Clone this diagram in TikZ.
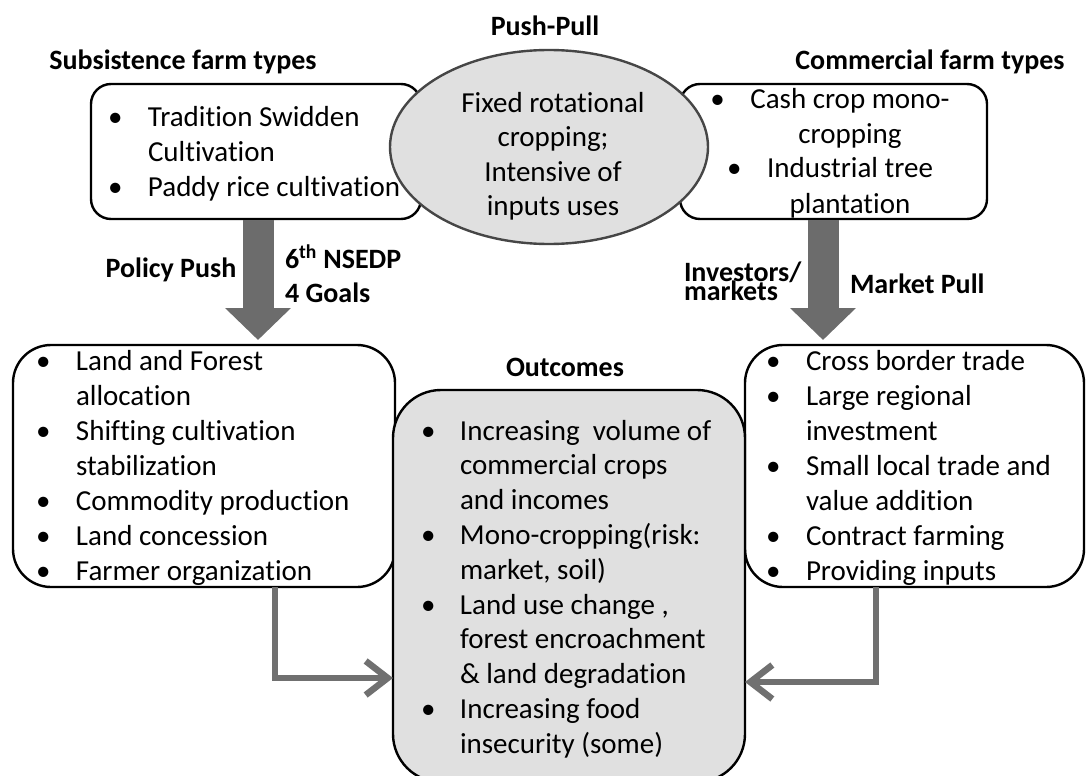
\documentclass[tikz,border=0pt]{standalone}
\usepackage{fontspec}
\setmainfont{Carlito}[Ligatures=NoCommon]
\usetikzlibrary{arrows.meta,shapes.geometric,calc}

\definecolor{fillgray}{RGB}{224,224,224}
\definecolor{pushgray}{RGB}{108,108,108}
\definecolor{linkgray}{RGB}{112,112,112}
\definecolor{rimgray}{RGB}{70,70,70}

\newcommand{\bodyfont}{\fontsize{29}{35}\selectfont}
\newcommand{\labelfont}{\fontsize{28}{34}\selectfont\bfseries}

\begin{document}
\begin{tikzpicture}[x=1pt,y=-1pt,
  roundbox/.style={draw=black,line width=2.4pt,fill=white,rounded corners=#1,inner sep=0pt,outer sep=0pt},
  hubshape/.style={ellipse,draw=rimgray,line width=2.4pt,fill=fillgray,inner sep=0pt,outer sep=0pt},
  bodytext/.style={inner sep=0pt,outer sep=0pt,font=\bodyfont},
  headtext/.style={inner sep=0pt,outer sep=0pt,font=\labelfont},
  bigpush/.style={pushgray,line width=31pt,-{Triangle[length=32pt,width=64pt]}},
  flowline/.style={linkgray,line width=6.5pt,-{Straight Barb[length=22pt,width=34pt]}}
]
\useasboundingbox (0,0) rectangle (1087,776);
\fill[white] (0,0) rectangle (1087,776);

% farm-type boxes
\node[roundbox=20pt,minimum width=330pt,minimum height=135pt] (subs) at (256,151.5) {};
\node[roundbox=20pt,minimum width=307pt,minimum height=135pt] (comm) at (833.5,151.5) {};

\node[bodytext,anchor=base west] (substext) at (108,126) {\begin{tabular}[t]{@{}p{40pt}@{}l@{}}
\textbullet & Tradition Swidden\\
 & Cultivation\\
\textbullet & Paddy rice cultivation
\end{tabular}};

% push-pull hub
\node[hubshape,minimum width=318pt,minimum height=194pt] (pp) at (549,147) {};
\node[bodytext,anchor=base] (pptext) at (553,112) {\fontsize{29}{34.5}\selectfont\begin{tabular}[t]{@{}c@{}}Fixed rotational\\cropping;\\Intensive of\\inputs uses\end{tabular}};

\node[bodytext,anchor=base] (commtext) at (830,108) {\begin{tabular}[t]{@{}c@{}}
\makebox[40pt][l]{\textbullet}Cash crop mono-\\
\hspace*{40pt}cropping\\
\makebox[40pt][l]{\textbullet}Industrial tree\\
\hspace*{40pt}plantation
\end{tabular}};

% policy / market boxes and outcomes
\node[roundbox=38pt,minimum width=382pt,minimum height=242pt] (pol) at (204,466) {};
\node[roundbox=38pt,minimum width=339pt,minimum height=242pt] (prov) at (914.5,466) {};
\node[roundbox=48pt,fill=fillgray,minimum width=352pt,minimum height=392pt] (outc) at (569,586) {};

\node[bodytext,anchor=base west] (poltext) at (36,370) {\begin{tabular}[t]{@{}p{40pt}@{}l@{}}
\textbullet & Land and Forest\\
 & allocation\\
\textbullet & Shifting cultivation\\
 & stabilization\\
\textbullet & Commodity production\\
\textbullet & Land concession\\
\textbullet & Farmer organization
\end{tabular}};

\node[bodytext,anchor=base west] (provtext) at (766,370) {\begin{tabular}[t]{@{}p{40pt}@{}l@{}}
\textbullet & Cross border trade\\
\textbullet & Large regional\\
 & investment\\
\textbullet & Small local trade and\\
 & value addition\\
\textbullet & Contract farming\\
\textbullet & Providing inputs
\end{tabular}};

\node[bodytext,anchor=base west] (outtext) at (421,440) {\fontsize{29}{34.8}\selectfont\begin{tabular}[t]{@{}p{39pt}@{}l@{}}
\textbullet & Increasing\ \ volume of\\
 & commercial crops\\
 & and incomes\\
\textbullet & Mono-cropping(risk:\\
 & market, soil)\\
\textbullet & Land use change ,\\
 & forest encroachment\\
 & \& land degradation\\
\textbullet & Increasing food\\
 & insecurity (some)
\end{tabular}};

% headings and arrow labels
\node[headtext,anchor=base] (pushpull) at (545,36) {Push-Pull};
\node[headtext,anchor=base] (substitle) at (183,70) {Subsistence farm types};
\node[headtext,anchor=base] (commtitle) at (930,70) {Commercial farm types};
\node[headtext,anchor=base] (policylab) at (171,277) {Policy Push};
\node[headtext,anchor=base west] (nsedplab) at (285,268) {\begin{tabular}[t]{@{}l@{}}6\textsuperscript{th} NSEDP\\4 Goals\end{tabular}};
\node[headtext,anchor=base west] (investlab) at (684,281) {Investors/};
\node[headtext,anchor=base west] (marketslab) at (684,300) {markets};
\node[headtext,anchor=base west] (marketpull) at (850,293) {Market Pull};
\node[headtext,anchor=base] (outlab) at (565,376) {Outcomes};

% policy push and market pull arrows
\coordinate (pushx) at ($(subs.south)+(2,0)$);
\draw[bigpush,shorten <=1.2pt,shorten >=5pt] (pushx) -- (pushx |- pol.north);
\coordinate (pullx) at ($(comm.south)+(-10.5,0)$);
\draw[bigpush,shorten <=1.2pt,shorten >=5pt] (pullx) -- (pullx |- prov.north);

% links into the outcomes
\coordinate (lbend) at (275,678);
\draw[flowline] (lbend |- pol.south) -- (lbend) -- (lbend -| outc.west);
\coordinate (rbend) at (876,682);
\draw[flowline] (rbend |- prov.south) -- (rbend) -- (rbend -| outc.east);
\end{tikzpicture}
\end{document}
